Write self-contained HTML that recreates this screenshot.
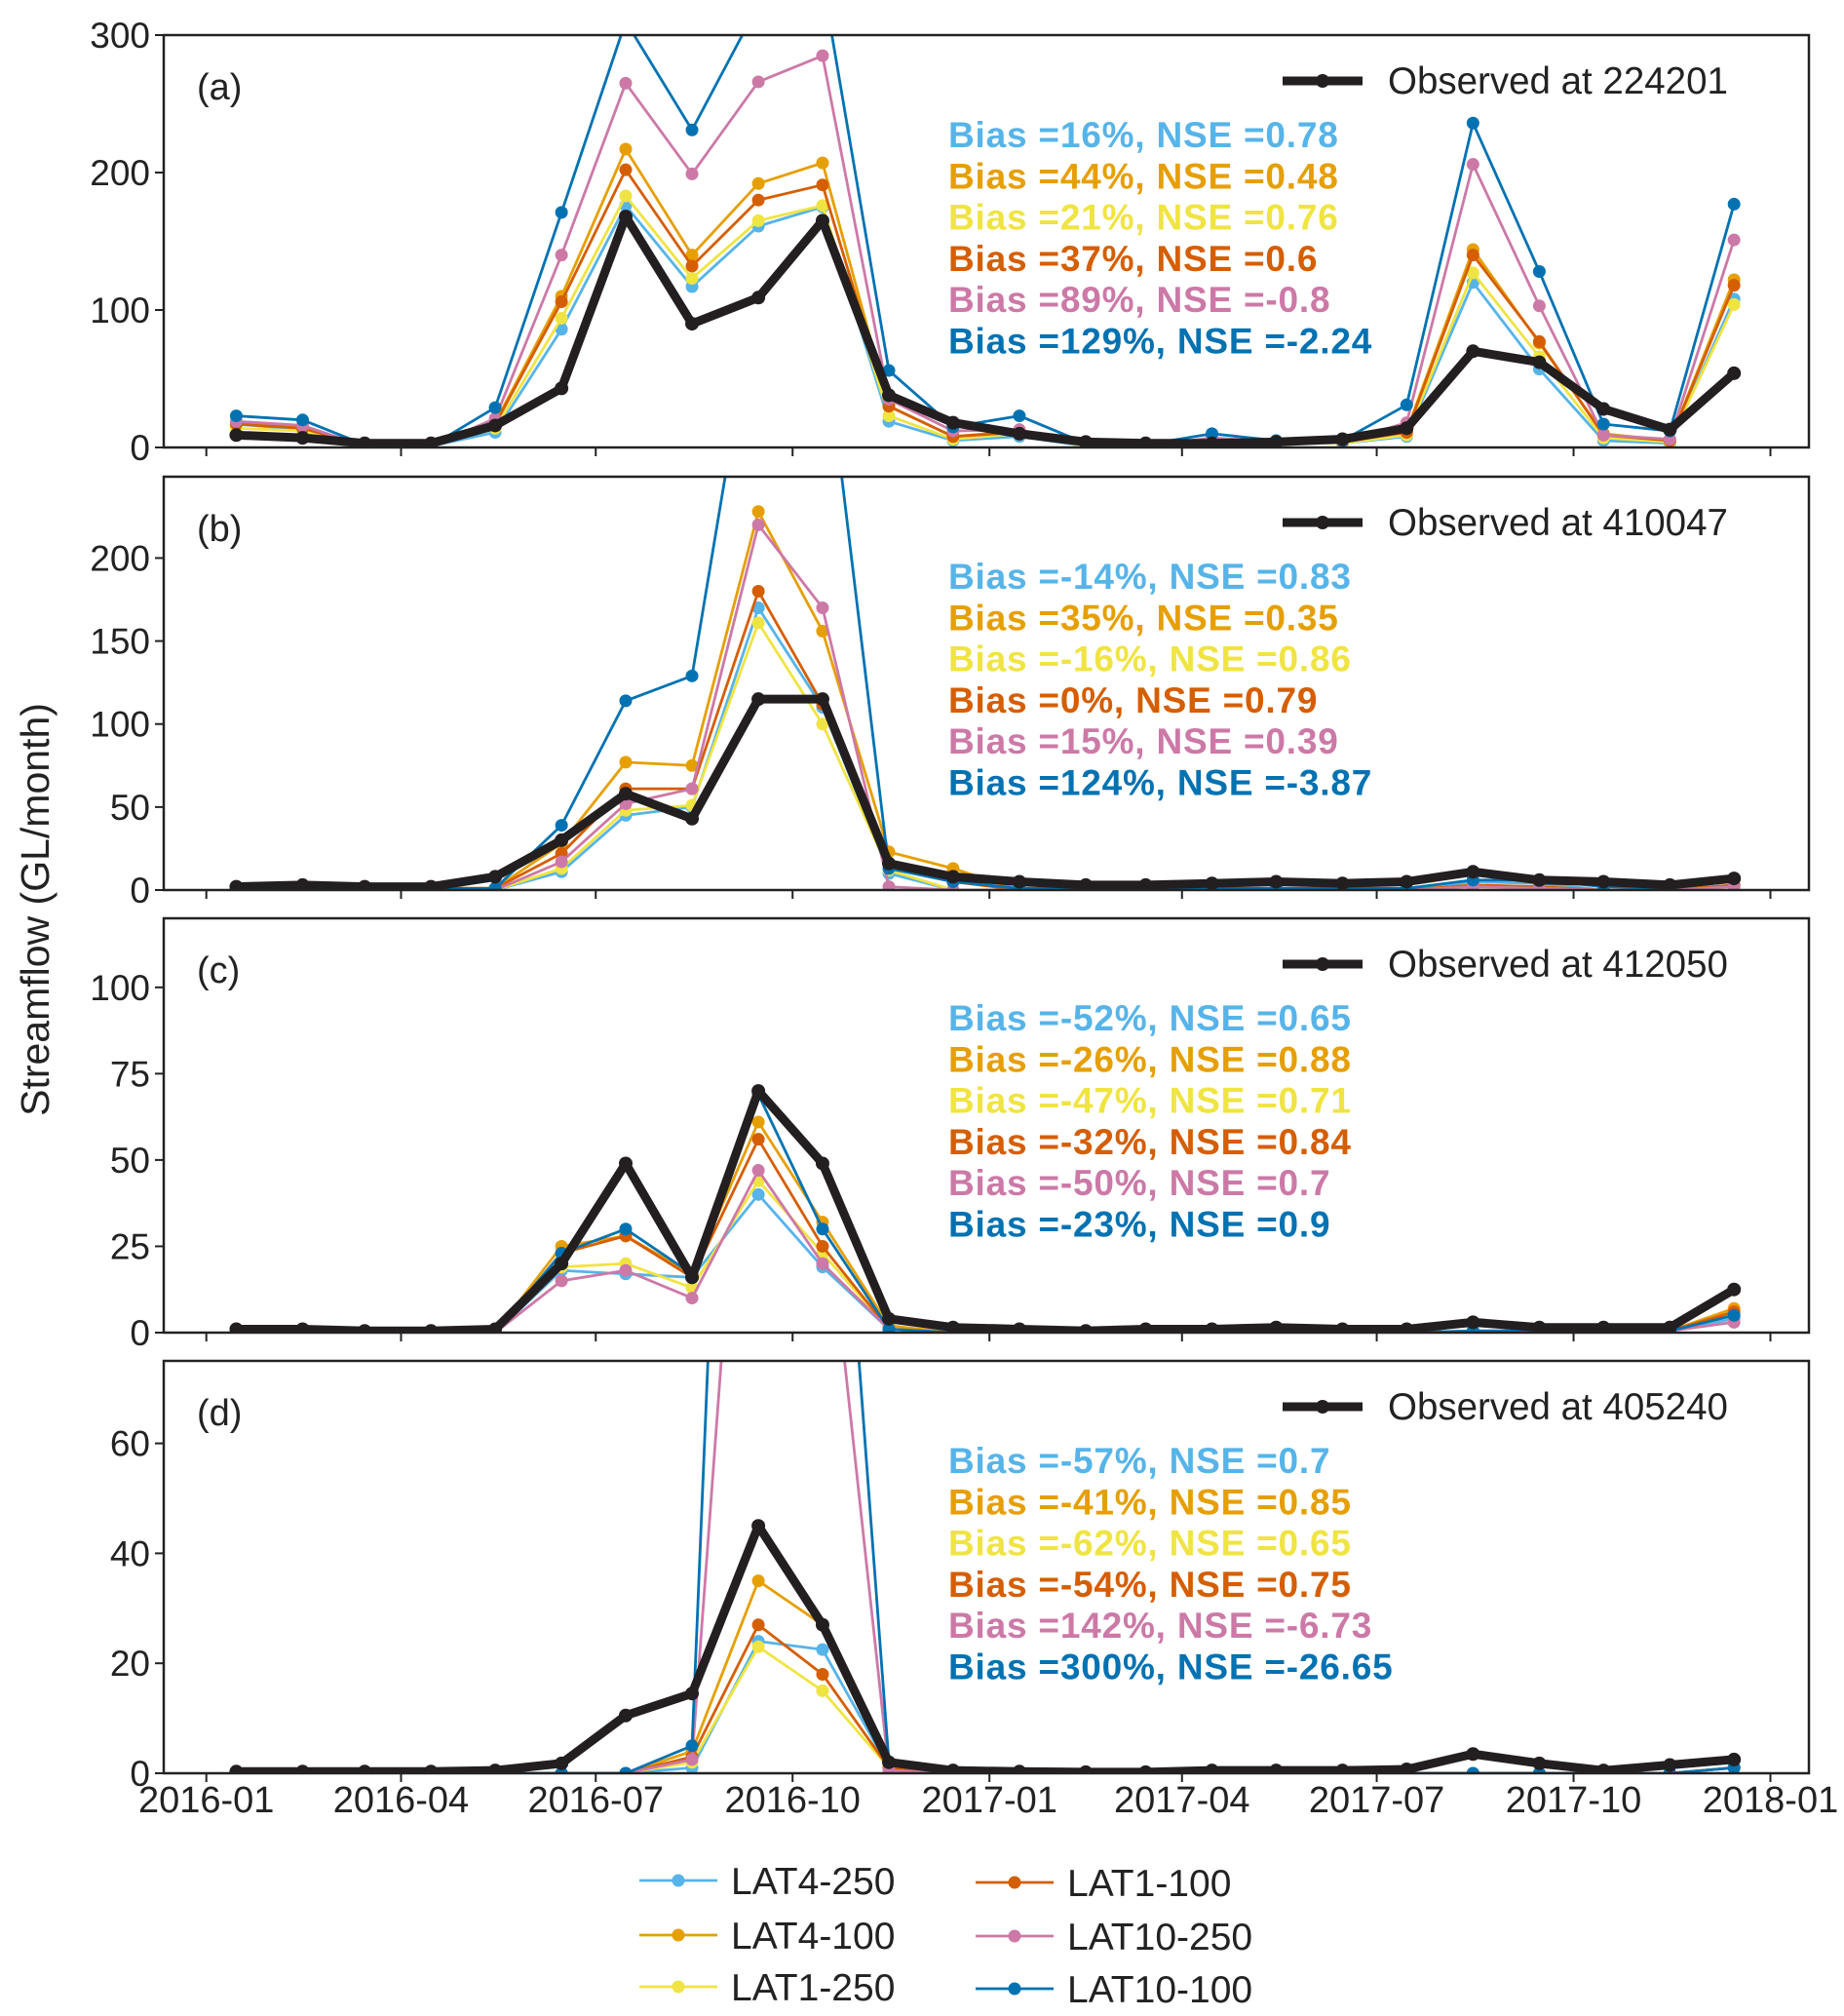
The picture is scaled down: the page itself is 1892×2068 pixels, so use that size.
<!DOCTYPE html>
<html><head><meta charset="utf-8"><style>
html,body{margin:0;padding:0;background:#fff}
svg{display:block;font-family:"Liberation Sans",Arial,sans-serif}
</style></head><body>
<svg id="chart" width="1892" height="2068" viewBox="0 0 1892 2068" xmlns="http://www.w3.org/2000/svg"></svg>
<script>
const months = ["2016-01","2016-02","2016-03","2016-04","2016-05","2016-06","2016-07","2016-08","2016-09","2016-10","2016-11","2016-12","2017-01","2017-02","2017-03","2017-04","2017-05","2017-06","2017-07","2017-08","2017-09","2017-10","2017-11","2017-12"];
const tickLabels = ["2016-01","2016-04","2016-07","2016-10","2017-01","2017-04","2017-07","2017-10","2018-01"];
const seriesNames = ["LAT4-250","LAT4-100","LAT1-250","LAT1-100","LAT10-250","LAT10-100"];
const seriesColors = ["#56B4E9","#E69F00","#F0E442","#D55E00","#CC79A7","#0072B2"];

const panelLabels = ["(a)","(b)","(c)","(d)"];
const stations = ["224201","410047","412050","405240"];
const yMax = [300, 249, 120, 75];
const yTicks = [[0,100,200,300],[0,50,100,150,200],[0,25,50,75,100],[0,20,40,60]];

const obsA = [9,7,3,3,16,43,168,90,109,165,38,18,10,4,3,3,4,6,14,70,62,28,13,54];
const a_LAT4_250 = [17,13,1,1,11,86,176,117,161,175,19,5,8,1,1,3,4,3,8,120,57,5,3,108];
const a_LAT4_100 = [17,15,1,1,18,110,217,140,192,207,30,8,12,2,1,5,4,4,12,144,76,10,5,122];
const a_LAT1_250 = [14,12,1,1,14,94,183,123,165,176,23,6,10,1,1,3,4,3,9,127,66,7,4,104];
const a_LAT1_100 = [17,14,1,1,17,106,202,132,180,191,30,8,11,2,1,4,4,4,11,140,77,9,5,118];
const a_LAT10_250 = [19,16,1,1,21,140,265,199,266,285,35,12,13,2,1,7,4,4,18,206,103,9,6,151];
const a_LAT10_100 = [23,20,2,1,29,171,310,231,322,340,56,15,23,3,2,10,5,5,31,236,128,17,12,177];

const obsB = [2,3,2,2,8,30,58,43,115,115,16,8,5,3,3,4,5,4,5,11,6,5,3,7];
const b_LAT4_250 = [0,0,0,0,0,11,45,50,170,110,10,0,0,0,0,0,0,0,0,5,4,0,0,3];
const b_LAT4_100 = [1,1,1,1,1,28,77,75,228,156,23,13,0,0,0,0,0,0,0,2,1,0,0,2];
const b_LAT1_250 = [0,0,0,0,0,13,48,51,161,100,12,0,0,0,0,0,0,0,0,3,2,0,0,2];
const b_LAT1_100 = [1,1,1,1,1,22,61,61,180,112,16,5,0,0,0,0,0,0,0,3,2,0,0,3];
const b_LAT10_250 = [1,1,0,0,0,17,52,61,220,170,2,0,0,0,0,0,0,0,0,2,1,0,0,2];
const b_LAT10_100 = [1,1,1,1,1,39,114,129,369,345,13,5,1,1,1,1,1,1,1,6,6,2,1,7];

const obsC = [1,1,0.5,0.5,1,20,49,16,70,49,4,1.5,1,0.5,1,1,1.5,1,1,3,1.5,1.5,1.5,12.5];
const c_LAT4_250 = [0,0,0,0,0,18,17,16,40,19,1,0,0,0,0,0,0,0,0,0.5,0.5,0.5,0.5,4];
const c_LAT4_100 = [0,0,0,0,0,25,28,17,61,32,2,0,0,0,0,0,0,0,0,0.5,0.5,0.5,0.5,7];
const c_LAT1_250 = [0,0,0,0,0,19,20,13,44,23,1,0,0,0,0,0,0,0,0,0.5,0.5,0.5,0.5,5];
const c_LAT1_100 = [0,0,0,0,0,23,28,16,56,25,1,0,0,0,0,0,0,0,0,0.5,0.5,0.5,0.5,6];
const c_LAT10_250 = [0,0,0,0,0,15,18,10,47,20,1,0,0,0,0,0,0,0,0,0.5,0.5,0.5,0.5,3];
const c_LAT10_100 = [0,0,0,0,0,23,30,17,69,30,1,0,0,0,0,0,0,0,0,0.5,0.5,0.5,0.5,5];

const obsD = [0.3,0.3,0.3,0.3,0.5,1.8,10.5,14.5,45,27,2,0.5,0.3,0.2,0.2,0.5,0.5,0.5,0.7,3.5,1.8,0.5,1.5,2.5];
const d_LAT4_250 = [0,0,0,0,0,0,0,1,24,22.5,1,0,0,0,0,0,0,0,0,0,0,0,0,1];
const d_LAT4_100 = [0,0,0,0,0,0,0,4,35,27,1,0,0,0,0,0,0,0,0,0,0,0,0,1];
const d_LAT1_250 = [0,0,0,0,0,0,0,2,23,15,1,0,0,0,0,0,0,0,0,0,0,0,0,1];
const d_LAT1_100 = [0,0,0,0,0,0,0,3,27,18,1,0,0,0,0,0,0,0,0,0,0,0,0,1];
const d_LAT10_250 = [0,0,0,0,0,0,0,2.5,167,112,0.5,0,0,0,0,0,0,0,0,0,0,0,0,1];
const d_LAT10_100 = [0,0,0,0,0,0,0,5,297,164,2,0,0,0,0,0,0,0,0,0,0,0,0,1];

const statsA = ["Bias =16%, NSE =0.78","Bias =44%, NSE =0.48","Bias =21%, NSE =0.76","Bias =37%, NSE =0.6","Bias =89%, NSE =-0.8","Bias =129%, NSE =-2.24"];
const statsB = ["Bias =-14%, NSE =0.83","Bias =35%, NSE =0.35","Bias =-16%, NSE =0.86","Bias =0%, NSE =0.79","Bias =15%, NSE =0.39","Bias =124%, NSE =-3.87"];
const statsC = ["Bias =-52%, NSE =0.65","Bias =-26%, NSE =0.88","Bias =-47%, NSE =0.71","Bias =-32%, NSE =0.84","Bias =-50%, NSE =0.7","Bias =-23%, NSE =0.9"];
const statsD = ["Bias =-57%, NSE =0.7","Bias =-41%, NSE =0.85","Bias =-62%, NSE =0.65","Bias =-54%, NSE =0.75","Bias =142%, NSE =-6.73","Bias =300%, NSE =-26.65"];

const panels = [
 {obs:obsA, sims:[a_LAT4_250,a_LAT4_100,a_LAT1_250,a_LAT1_100,a_LAT10_250,a_LAT10_100], stats:statsA, top:36, bot:459},
 {obs:obsB, sims:[b_LAT4_250,b_LAT4_100,b_LAT1_250,b_LAT1_100,b_LAT10_250,b_LAT10_100], stats:statsB, top:489, bot:913},
 {obs:obsC, sims:[c_LAT4_250,c_LAT4_100,c_LAT1_250,c_LAT1_100,c_LAT10_250,c_LAT10_100], stats:statsC, top:942, bot:1367},
 {obs:obsD, sims:[d_LAT4_250,d_LAT4_100,d_LAT1_250,d_LAT1_100,d_LAT10_250,d_LAT10_100], stats:statsD, top:1396, bot:1819}
];

const NS = "http://www.w3.org/2000/svg";
const svg = document.getElementById("chart");
const L = 168, R = 1856;
const d0 = Date.UTC(2016,0,1), d1 = Date.UTC(2018,0,1);
const X0 = 211.7, X1 = 1816.5;
function xDate(str, day){ const [y,m]=str.split("-").map(Number); const t=Date.UTC(y,m-1,day); return X0+(t-d0)/(d1-d0)*(X1-X0); }
function mk(tag, attrs, parent){ const e=document.createElementNS(NS,tag); for(const k in attrs) e.setAttribute(k,attrs[k]); (parent||svg).appendChild(e); return e; }
function txt(s, attrs, parent){ const e=mk("text",attrs,parent); e.textContent=s; return e; }

panels.forEach((p, pi) => {
  const g = mk("g", {});
  
  
  const clipId = "clip"+pi;
  const cp = mk("clipPath",{id:clipId},g);
  mk("rect",{x:L,y:p.top,width:R-L,height:p.bot-p.top},cp);
  const yS = v => p.bot - v/yMax[pi]*(p.bot-p.top);
  yTicks[pi].forEach(v => {
    const y = yS(v);
    mk("line",{x1:L-9,x2:L,y1:y,y2:y,stroke:"#222","stroke-width":2},g);
    const t = txt(String(v),{x:L-14,y:y+13,"text-anchor":"end","font-size":37,fill:"#222"},g);
    
    
  });
  tickLabels.forEach(s => {
    const x = xDate(s,1);
    mk("line",{x1:x,x2:x,y1:p.bot,y2:p.bot+9,stroke:"#222","stroke-width":2},g);
    if (pi===3) {
      const t = txt(s,{x:x,y:p.bot+40,"text-anchor":"middle","font-size":38,fill:"#222"},g);
      
      
    }
  });
  const plot = mk("g",{"clip-path":"url(#"+clipId+")"},g);
  const drawSeries = (vals, color, sw, r, name) => {
    const sg = mk("g",{},plot);
    
    
    const pts = vals.map((v,i)=>[xDate(months[i],15), yS(v)]);
    mk("polyline",{points:pts.map(q=>q.join(",")).join(" "),fill:"none",stroke:color,"stroke-width":sw,"stroke-linejoin":"round"},sg);
    pts.forEach(q => mk("circle",{cx:q[0],cy:q[1],r:r,fill:color},sg));
  };
  p.sims.forEach((s,si) => drawSeries(s, seriesColors[si], 2.8, 6.5, "series-"+seriesNames[si].toLowerCase()));
  drawSeries(p.obs, "#231f20", 9, 7, "series-observed");
  mk("rect",{x:L,y:p.top,width:R-L,height:p.bot-p.top,fill:"none",stroke:"#222","stroke-width":2.5},g);
  const pl = txt(panelLabels[pi],{x:202,y:p.top+66,"font-size":38,fill:"#222"},g);
  
  
  const ly = p.top + 47;
  const lg = mk("g",{},g);
  
  
  mk("line",{x1:1316,x2:1398,y1:ly,y2:ly,stroke:"#231f20","stroke-width":9},lg);
  mk("circle",{cx:1357,cy:ly,r:7,fill:"#231f20"},lg);
  txt("Observed at "+stations[pi],{x:1424,y:ly+13,"font-size":38.5,fill:"#222"},lg);
  p.stats.forEach((s,si) => {
    const t = txt(s,{x:973,y:p.top+115+si*42.3,"font-size":37,"font-weight":"bold","letter-spacing":"0.8",fill:seriesColors[si]},g);
    
    
  });
});

const yl = txt("Streamflow (GL/month)",{x:0,y:0,"font-size":41,fill:"#222","text-anchor":"middle",transform:"translate(50,933) rotate(-90)"});



const legPos = [[656,1929],[656,1985],[656,2038],[1001,1931],[1001,1986],[1001,2040]];
seriesNames.forEach((n,i) => {
  const g = mk("g",{});
  
  
  const [x,y] = legPos[i];
  mk("line",{x1:x,x2:x+80,y1:y,y2:y,stroke:seriesColors[i],"stroke-width":2.8},g);
  mk("circle",{cx:x+40,cy:y,r:6.5,fill:seriesColors[i]},g);
  txt(n,{x:x+94,y:y+14,"font-size":39,fill:"#222"},g);
});
</script>
</body></html>
